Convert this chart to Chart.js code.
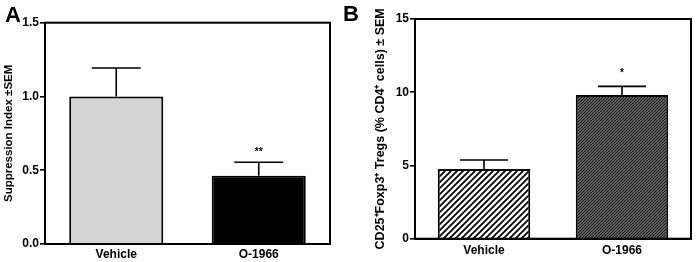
<!DOCTYPE html>
<html>
<head>
<meta charset="utf-8">
<script src="https://cdn.jsdelivr.net/npm/chart.js@4.4.1/dist/chart.umd.min.js"></script>
<style>
  body { margin: 0; background: #fff; }
  #wrap { position: relative; width: 699px; height: 262px; }
  #boxA { position: absolute; left: 0; top: 0; width: 340px; height: 262px; }
  #boxB { position: absolute; left: 340px; top: 0; width: 359px; height: 262px; }
</style>
</head>
<body>
<div id="wrap">
  <div id="boxA"><canvas id="chartA"></canvas></div>
  <div id="boxB"><canvas id="chartB"></canvas></div>
</div>
<script>
//Data
const categories = ['Vehicle', 'O-1966']

const suppressionMean = [1.0, 0.463]
const suppressionSem = [0.193, 0.091]
const suppressionStars = ['', '**']

const tregMean = [4.76, 9.81]
const tregSem = [0.61, 0.59]
const tregStars = ['', '*']

const FONT = "'Liberation Sans', Arial, Helvetica, sans-serif"

//Hatch pattern for panel B bars
function hatch(size, lineW, bg, fg) {
  let c = document.createElement('canvas')
  c.width = size
  c.height = size
  let g = c.getContext('2d')
  g.fillStyle = bg
  g.fillRect(0, 0, size, size)
  g.strokeStyle = fg
  g.lineWidth = lineW
  g.beginPath()
  g.moveTo(-size, 2 * size); g.lineTo(2 * size, -size)
  g.moveTo(-size, size); g.lineTo(size, -size)
  g.moveTo(0, 2 * size); g.lineTo(2 * size, 0)
  g.stroke()
  return g.createPattern(c, 'repeat')
}

//Frame, error bars, stars and panel letter
const extras = {
  id: 'extras',
  afterDatasetsDraw(chart, args, opts) {
    const ctx = chart.ctx
    const area = chart.chartArea
    const yScale = chart.scales.y
    const meta = chart.getDatasetMeta(0)
    ctx.save()
    ctx.strokeStyle = '#000'
    ctx.lineWidth = 2
    ctx.strokeRect(area.left, area.top, area.right - area.left, area.bottom - area.top)

    ctx.lineWidth = 1.6
    meta.data.forEach((bar, i) => {
      const topY = yScale.getPixelForValue(opts.mean[i] + opts.sem[i])
      const half = bar.width * 0.26
      ctx.beginPath()
      ctx.moveTo(bar.x, bar.y)
      ctx.lineTo(bar.x, topY)
      ctx.moveTo(bar.x - half, topY)
      ctx.lineTo(bar.x + half, topY)
      ctx.stroke()
      if (opts.stars[i]) {
        ctx.fillStyle = '#000'
        ctx.font = 'bold 10px ' + FONT
        ctx.textAlign = 'center'
        ctx.textBaseline = 'middle'
        ctx.fillText(opts.stars[i], bar.x, topY - opts.starGap)
      }
    })

    ctx.fillStyle = '#000'
    ctx.font = 'bold 22px ' + FONT
    ctx.textAlign = 'left'
    ctx.textBaseline = 'alphabetic'
    ctx.fillText(opts.letter, opts.letterX, opts.letterY)
    ctx.restore()
  }
}

function buildChart(canvasId, mean, sem, stars, colors, yMax, yStep, yTitle, p) {
  return new Chart(document.getElementById(canvasId), {
    type: 'bar',
    data: {
      labels: categories,
      datasets: [{
        data: mean,
        backgroundColor: colors,
        borderColor: '#000',
        borderWidth: 2,
        borderSkipped: 'bottom',
        categoryPercentage: 1,
        barPercentage: p.barPct
      }]
    },
    options: {
      responsive: true,
      maintainAspectRatio: false,
      animation: false,
      layout: { padding: { left: p.left, right: p.right, top: p.top, bottom: 0 } },
      scales: {
        x: {
          grid: { display: false, drawTicks: false },
          border: { color: '#000', width: 2 },
          ticks: { color: '#000', padding: p.xPad, font: { family: FONT, size: 12, weight: 'bold' } },
          afterFit: s => { s.height = p.xHeight }
        },
        y: {
          min: 0,
          max: yMax,
          grid: { drawOnChartArea: false, drawTicks: true, tickLength: 5, color: '#000', lineWidth: 1.6 },
          border: { color: '#000', width: 2 },
          ticks: {
            stepSize: yStep,
            color: '#000',
            padding: 1,
            font: { family: FONT, size: 12, weight: 'bold' },
            callback: v => yStep < 1 ? v.toFixed(1) : v
          },
          title: {
            display: true,
            text: yTitle,
            color: '#000',
            padding: { top: 2, bottom: 0 },
            font: { family: FONT, size: p.titleSize, weight: 'bold' }
          },
          afterFit: s => { s.width = p.yWidth }
        }
      },
      plugins: {
        legend: { display: false },
        tooltip: { enabled: false },
        extras: {
          mean: mean, sem: sem, stars: stars, starGap: p.starGap,
          letter: p.letter, letterX: p.letterX, letterY: p.letterY
        }
      }
    },
    plugins: [extras]
  })
}

//Panel A
buildChart('chartA', suppressionMean, suppressionSem, suppressionStars,
  ['#d4d4d4', '#000000'], 1.5, 0.5, 'Suppression Index \u00b1SEM',
  { left: 0, right: 10, top: 22.7, yWidth: 45, xHeight: 18, xPad: 3, barPct: 0.66, titleSize: 11.5,
    starGap: 10, letter: 'A', letterX: 5, letterY: 22 })

//Panel B
buildChart('chartB', tregMean, tregSem, tregStars,
  [hatch(6, 1.8, '#ffffff', '#000000'), hatch(3, 1.4, '#9a9a9a', '#1e1e1e')], 15, 5,
  'CD25\u207aFoxp3\u207a Tregs (% CD4\u207a cells) \u00b1 SEM',
  { left: 31, right: 8, top: 19, yWidth: 44, xHeight: 23.3, xPad: 5, barPct: 0.67, titleSize: 12.5,
    starGap: 13, letter: 'B', letterX: 3, letterY: 21 })
</script>
</body>
</html>
